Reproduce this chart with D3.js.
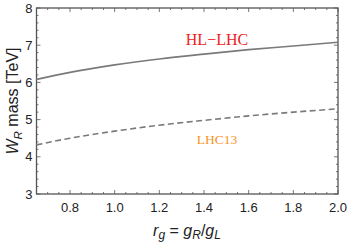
<!DOCTYPE html>
<html><head><meta charset="utf-8">
<script src="https://cdn.jsdelivr.net/npm/d3@7"></script>
<style>body{margin:0;background:#fff}svg{display:block}</style>
</head><body>
<svg id="c" width="349" height="244"></svg>
<script>
const rg = [0.65, 0.8, 1.0, 1.2, 1.4, 1.6, 1.8, 2.0];
const hlLHC = [6.08, 6.27, 6.47, 6.63, 6.76, 6.88, 6.98, 7.08];
const lhc13 = [4.32, 4.50, 4.69, 4.85, 4.98, 5.10, 5.20, 5.29];
const xTicks = [0.8, 1.0, 1.2, 1.4, 1.6, 1.8, 2.0];
const yTicks = [3, 4, 5, 6, 7, 8];

const svg = d3.select("#c");
const L = 36.5, R = 338, T = 8, B = 194;
const x = d3.scaleLinear().domain([0.65, 2.0]).range([L, R]);
const y = d3.scaleLinear().domain([3, 8]).range([B, T]);
const frame = "#555";

const xMinor = d3.range(0.65, 2.0001, 0.05).map(v => +v.toFixed(2));
const yMinor = d3.range(3, 8.0001, 0.2).map(v => +v.toFixed(2));
const isMajX = v => xTicks.some(t => Math.abs(t - v) < 1e-6);
const isMajY = v => yTicks.some(t => Math.abs(t - v) < 1e-6);
const g = svg.append("g").attr("stroke", frame).attr("stroke-width", 0.8);
xMinor.forEach(v => {
  const len = isMajX(v) ? 4 : 2;
  g.append("line").attr("x1", x(v)).attr("x2", x(v)).attr("y1", B).attr("y2", B - len);
  g.append("line").attr("x1", x(v)).attr("x2", x(v)).attr("y1", T).attr("y2", T + len);
});
yMinor.forEach(v => {
  const len = isMajY(v) ? 4 : 2;
  g.append("line").attr("y1", y(v)).attr("y2", y(v)).attr("x1", L).attr("x2", L + len);
  g.append("line").attr("y1", y(v)).attr("y2", y(v)).attr("x1", R).attr("x2", R - len);
});
svg.append("rect").attr("x", L).attr("y", T).attr("width", R - L).attr("height", B - T)
  .attr("fill", "none").attr("stroke", frame).attr("stroke-width", 1.3);

const lab = svg.append("g").attr("font-family", "Liberation Sans, Arial, sans-serif")
  .attr("font-size", 13).attr("fill", "#222");
xTicks.forEach(t => lab.append("text").attr("x", x(t)).attr("y", 212)
  .attr("text-anchor", "middle").text(d3.format(".1f")(t)));
yTicks.forEach(t => lab.append("text").attr("x", 32.5).attr("y", y(t) + 4.6)
  .attr("text-anchor", "end").text(t));

const line = d3.line().x((d, i) => x(rg[i])).y(d => y(d)).curve(d3.curveMonotoneX);
svg.append("path").attr("d", line(hlLHC)).attr("fill", "none")
  .attr("stroke", "#7a7a7a").attr("stroke-width", 1.6);
svg.append("path").attr("d", line(lhc13)).attr("fill", "none")
  .attr("stroke", "#7a7a7a").attr("stroke-width", 1.6).attr("stroke-dasharray", "6,3.5");

svg.append("text").attr("x", 217).attr("y", 45).attr("text-anchor", "middle")
  .attr("font-family", "Liberation Serif, Times New Roman, serif").attr("font-size", 16)
  .attr("fill", "#ee1c25").text("HL\u2212LHC");
svg.append("text").attr("x", 217).attr("y", 144).attr("text-anchor", "middle")
  .attr("font-family", "Liberation Serif, Times New Roman, serif").attr("font-size", 13.5)
  .attr("fill", "#f7941d").text("LHC13");

const xt = svg.append("text").attr("x", 187).attr("y", 236).attr("text-anchor", "middle")
  .attr("font-family", "Liberation Sans, Arial, sans-serif").attr("font-size", 16).attr("fill", "#222");
xt.append("tspan").attr("font-style", "italic").text("r");
xt.append("tspan").attr("font-style", "italic").attr("font-size", 12).attr("dy", 3).text("g");
xt.append("tspan").attr("dy", -3).text(" = ");
xt.append("tspan").attr("font-style", "italic").text("g");
xt.append("tspan").attr("font-style", "italic").attr("font-size", 12).attr("dy", 3).text("R");
xt.append("tspan").attr("dy", -3).text("/");
xt.append("tspan").attr("font-style", "italic").text("g");
xt.append("tspan").attr("font-style", "italic").attr("font-size", 12).attr("dy", 3).text("L");

const yt = svg.append("text").attr("transform", "translate(18,101) rotate(-90)")
  .attr("text-anchor", "middle")
  .attr("font-family", "Liberation Sans, Arial, sans-serif").attr("font-size", 16).attr("fill", "#222");
yt.append("tspan").attr("font-style", "italic").text("W");
yt.append("tspan").attr("font-style", "italic").attr("font-size", 11.5).attr("dy", 3.5).text("R");
yt.append("tspan").attr("dy", -3.5).text(" mass [TeV]");
</script>
</body></html>
